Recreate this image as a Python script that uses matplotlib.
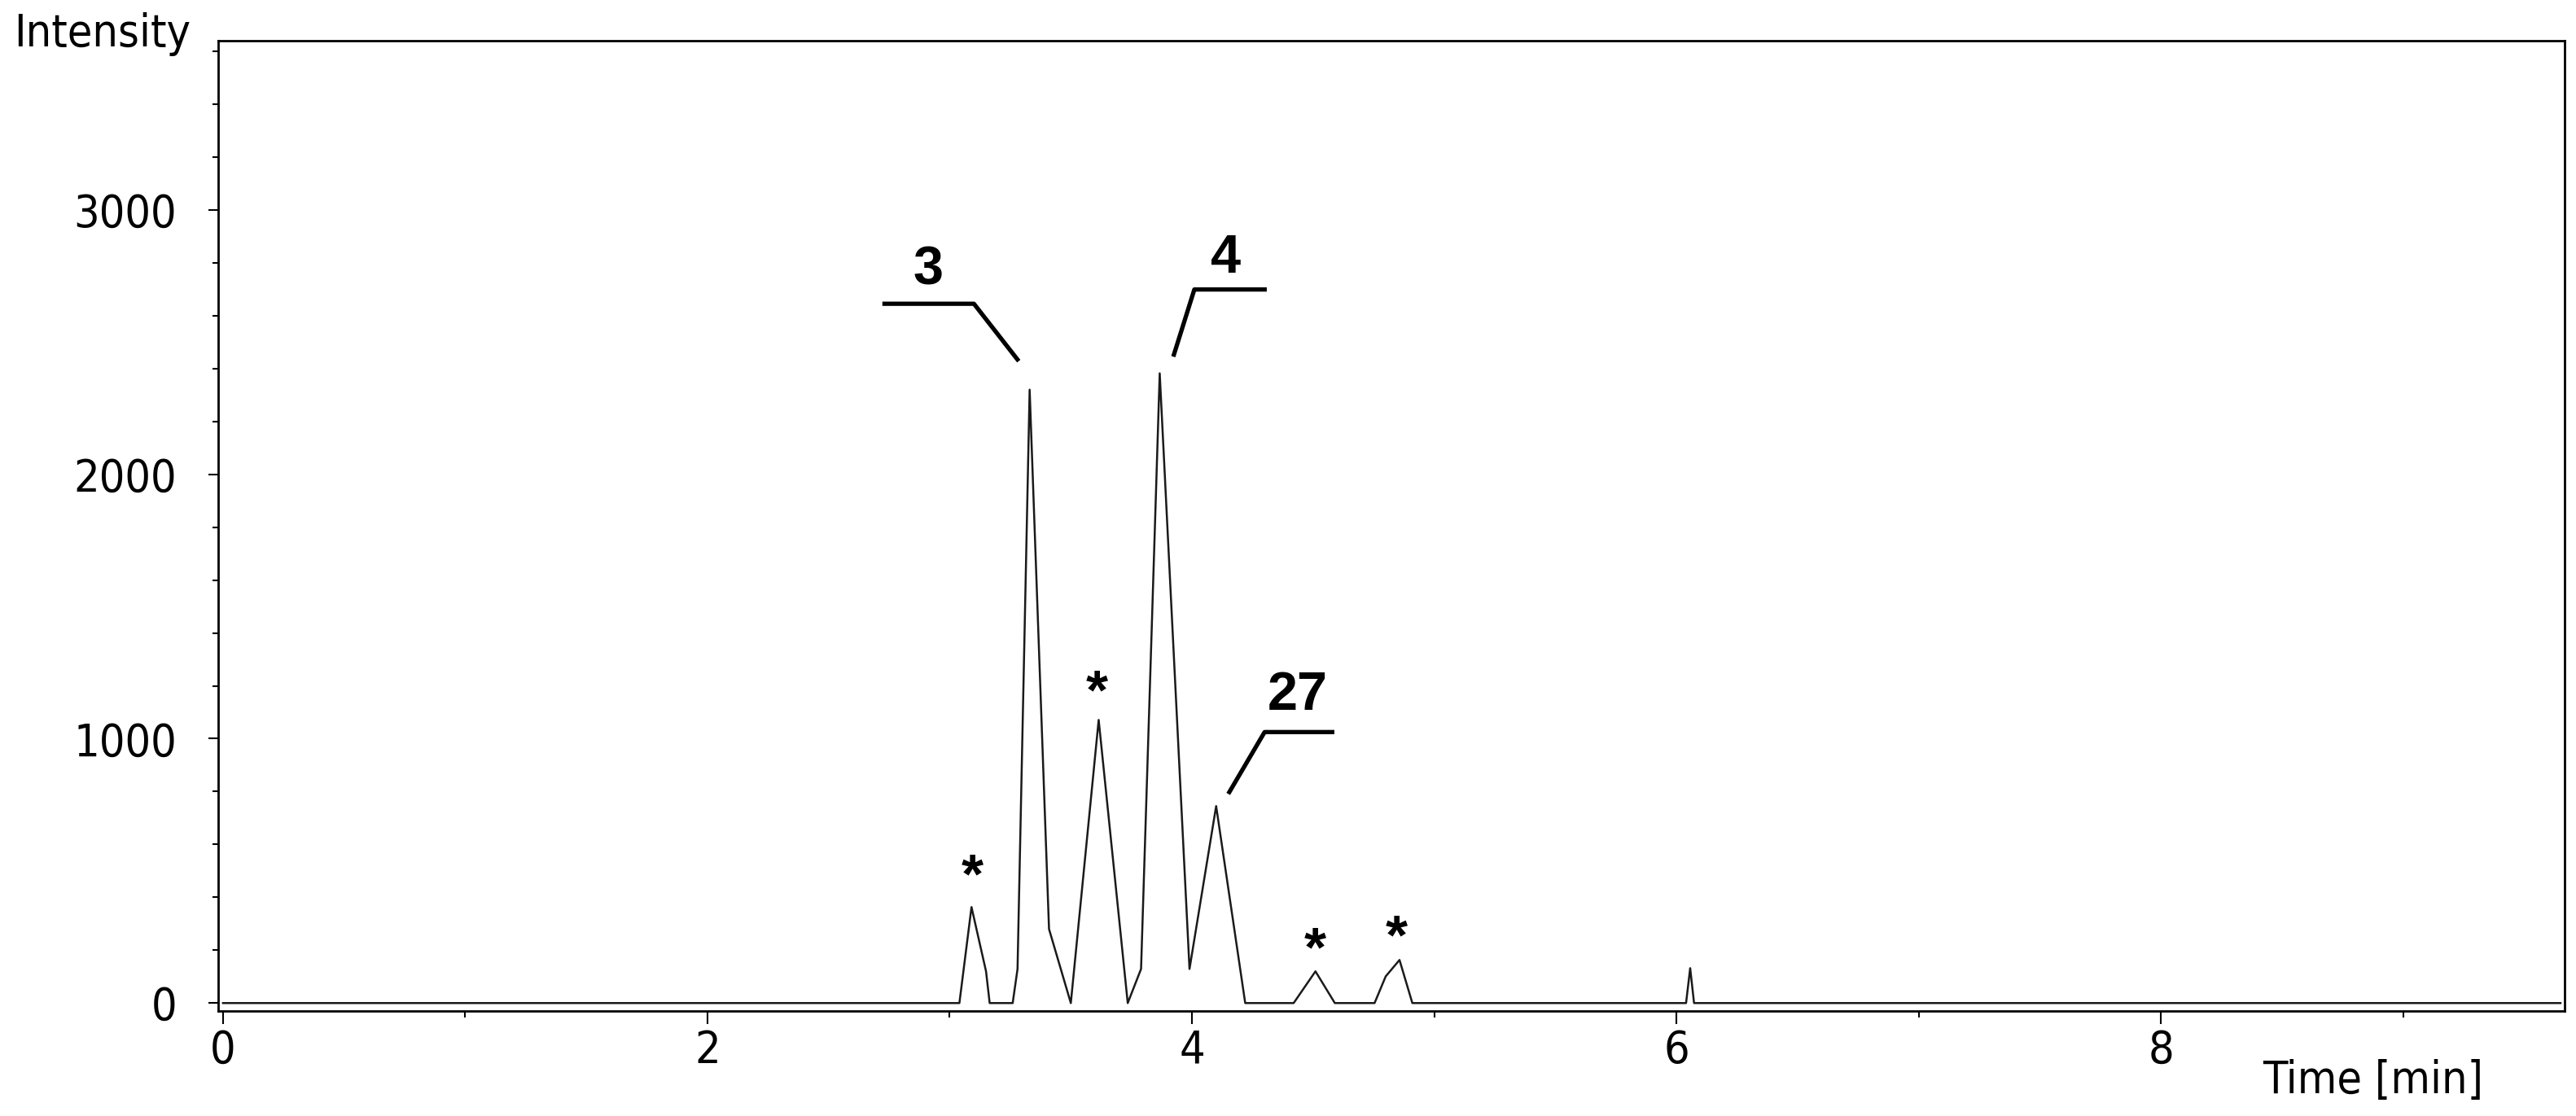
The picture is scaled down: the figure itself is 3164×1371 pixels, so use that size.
import matplotlib
matplotlib.use("Agg")
import matplotlib.pyplot as plt
from matplotlib.ticker import MultipleLocator

plt.rcParams['font.family'] = ['DejaVu Sans']
plt.rcParams['font.stretch'] = 'condensed'

# chromatogram trace (time in min, intensity)
time_min = [0.0, 3.04, 3.09, 3.15, 3.165, 3.26, 3.28, 3.33, 3.41, 3.50,
            3.615, 3.735, 3.79, 3.867, 3.99, 4.10, 4.22, 4.42, 4.51, 4.59,
            4.754, 4.80, 4.857, 4.91, 6.04, 6.057, 6.073, 9.65]
intensity = [0, 0, 363, 120, 0, 0, 129, 2320, 280, 0,
             1071, 0, 129, 2382, 129, 745, 0, 0, 120, 0,
             0, 101, 163, 0, 0, 132, 0, 0]

# peak labels: text, text position, leader line vertices
peak_names = ['3', '4', '27']
name_pos = [(2.91, 2770), (4.141, 2815), (4.436, 1160)]
leaders = [
    ([2.722, 3.10, 3.285], [2645, 2645, 2428]),
    ([3.923, 4.01, 4.309], [2445, 2699, 2699]),
    ([4.15, 4.30, 4.588], [791, 1025, 1025]),
]

# unidentified peaks marked with *
star_x = [3.092, 3.606, 4.51, 4.846]
star_y = [517, 1212, 241, 286]

fig = plt.figure(figsize=(31.64, 13.71), dpi=100)
ax = fig.add_axes([268 / 3164, 1 - 1242 / 1371, (3150 - 268) / 3164, (1242 - 50) / 1371])

ax.plot(time_min, intensity, color='#1a1a1a', lw=1.8)

for name, (tx, ty), (lx, ly) in zip(peak_names, name_pos, leaders):
    ax.plot(lx, ly, color='black', lw=3.8, solid_capstyle='butt')
    ax.text(tx, ty, name, ha='center', va='center', fontsize=48,
            fontweight='bold', family='Liberation Sans', fontstretch='normal')

for sx, sy in zip(star_x, star_y):
    ax.annotate('*', xy=(sx, sy), xytext=(0, -23), textcoords='offset points',
                ha='center', va='baseline', fontsize=50, fontweight='bold',
                family='Liberation Sans', fontstretch='normal')

ax.set_xlim(-0.02, 9.667)
ax.set_ylim(-30, 3640)

ax.xaxis.set_major_locator(MultipleLocator(2))
ax.xaxis.set_minor_locator(MultipleLocator(1))
ax.yaxis.set_major_locator(MultipleLocator(1000))
ax.yaxis.set_minor_locator(MultipleLocator(200))

ax.tick_params(axis='x', which='major', length=11.5, width=1.5, pad=4, labelsize=40)
ax.tick_params(axis='x', which='minor', length=6, width=1.5)
ax.tick_params(axis='y', which='major', length=8.6, width=1.5, pad=28, labelsize=40)
ax.tick_params(axis='y', which='minor', length=5, width=1.5)

for sp in ax.spines.values():
    sp.set_linewidth(2)

fig.text(17 / 3164, 1 - 42 / 1371, 'Intensity', ha='left', va='center', fontsize=40)
fig.text(2915 / 3164, 1 - 1328 / 1371, 'Time [min]', ha='center', va='center', fontsize=40)

fig.savefig('out.png', dpi=100)
